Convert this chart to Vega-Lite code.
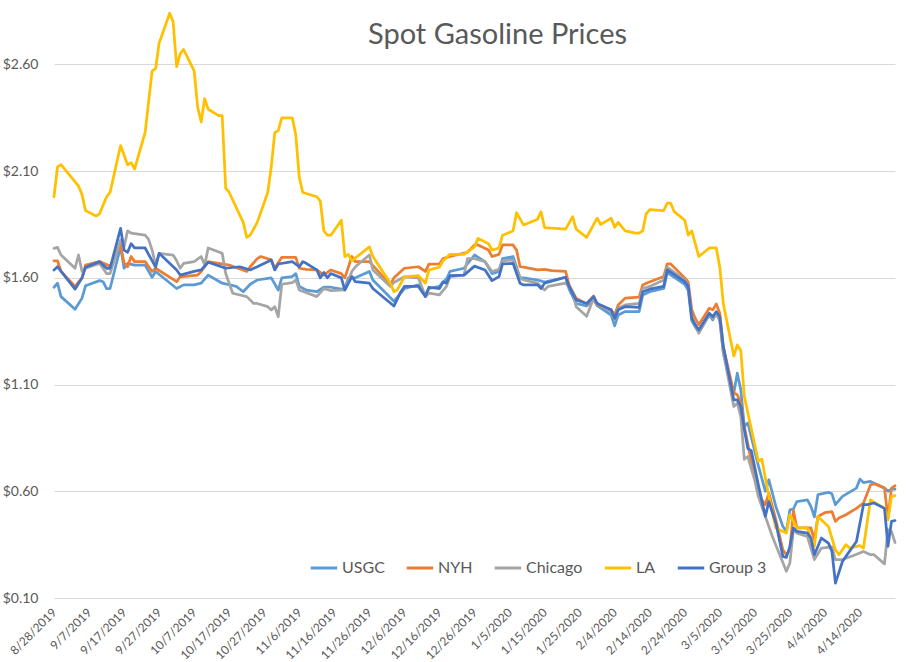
{
"$schema":"https://vega.github.io/schema/vega-lite/v6.json",
"width":841,"height":588,
"autosize":{"type":"none"},
"padding":{"left":54,"top":10,"right":17,"bottom":64},
"background":"white",
"title":{"text":"Spot Gasoline Prices","font":"Lato","fontSize":29,"fontWeight":"normal","color":"#595959","anchor":"middle","frame":"group","offset":0,"baseline":"alphabetic","dx":23,"dy":63},
"data":{"format":{"parse":{"date":"date:'%Y-%m-%d'"}},"values":[
{"series":"USGC","date":"2019-08-28","price":1.556},{"series":"USGC","date":"2019-08-29","price":1.575},{"series":"USGC","date":"2019-08-30","price":1.512},{"series":"USGC","date":"2019-09-03","price":1.453},{"series":"USGC","date":"2019-09-05","price":1.505},{"series":"USGC","date":"2019-09-06","price":1.563},{"series":"USGC","date":"2019-09-10","price":1.587},{"series":"USGC","date":"2019-09-11","price":1.582},{"series":"USGC","date":"2019-09-12","price":1.55},{"series":"USGC","date":"2019-09-13","price":1.55},{"series":"USGC","date":"2019-09-16","price":1.746},{"series":"USGC","date":"2019-09-17","price":1.645},{"series":"USGC","date":"2019-09-18","price":1.668},{"series":"USGC","date":"2019-09-20","price":1.66},{"series":"USGC","date":"2019-09-23","price":1.66},{"series":"USGC","date":"2019-09-25","price":1.603},{"series":"USGC","date":"2019-09-26","price":1.63},{"series":"USGC","date":"2019-10-02","price":1.55},{"series":"USGC","date":"2019-10-04","price":1.567},{"series":"USGC","date":"2019-10-07","price":1.567},{"series":"USGC","date":"2019-10-09","price":1.575},{"series":"USGC","date":"2019-10-11","price":1.613},{"series":"USGC","date":"2019-10-15","price":1.575},{"series":"USGC","date":"2019-10-19","price":1.56},{"series":"USGC","date":"2019-10-21","price":1.535},{"series":"USGC","date":"2019-10-23","price":1.57},{"series":"USGC","date":"2019-10-25","price":1.59},{"series":"USGC","date":"2019-10-29","price":1.6},{"series":"USGC","date":"2019-10-31","price":1.543},{"series":"USGC","date":"2019-11-01","price":1.6},{"series":"USGC","date":"2019-11-04","price":1.606},{"series":"USGC","date":"2019-11-05","price":1.62},{"series":"USGC","date":"2019-11-06","price":1.56},{"series":"USGC","date":"2019-11-08","price":1.543},{"series":"USGC","date":"2019-11-11","price":1.535},{"series":"USGC","date":"2019-11-13","price":1.556},{"series":"USGC","date":"2019-11-15","price":1.556},{"series":"USGC","date":"2019-11-18","price":1.547},{"series":"USGC","date":"2019-11-19","price":1.55},{"series":"USGC","date":"2019-11-20","price":1.6},{"series":"USGC","date":"2019-11-22","price":1.6},{"series":"USGC","date":"2019-11-26","price":1.63},{"series":"USGC","date":"2019-11-27","price":1.59},{"series":"USGC","date":"2019-12-03","price":1.49},{"series":"USGC","date":"2019-12-06","price":1.55},{"series":"USGC","date":"2019-12-10","price":1.567},{"series":"USGC","date":"2019-12-12","price":1.52},{"series":"USGC","date":"2019-12-13","price":1.55},{"series":"USGC","date":"2019-12-16","price":1.56},{"series":"USGC","date":"2019-12-17","price":1.58},{"series":"USGC","date":"2019-12-18","price":1.594},{"series":"USGC","date":"2019-12-19","price":1.63},{"series":"USGC","date":"2019-12-23","price":1.645},{"series":"USGC","date":"2019-12-26","price":1.707},{"series":"USGC","date":"2019-12-29","price":1.676},{"series":"USGC","date":"2019-12-31","price":1.62},{"series":"USGC","date":"2020-01-02","price":1.63},{"series":"USGC","date":"2020-01-03","price":1.69},{"series":"USGC","date":"2020-01-06","price":1.7},{"series":"USGC","date":"2020-01-08","price":1.6},{"series":"USGC","date":"2020-01-09","price":1.6},{"series":"USGC","date":"2020-01-13","price":1.59},{"series":"USGC","date":"2020-01-15","price":1.58},{"series":"USGC","date":"2020-01-21","price":1.603},{"series":"USGC","date":"2020-01-22","price":1.547},{"series":"USGC","date":"2020-01-24","price":1.48},{"series":"USGC","date":"2020-01-27","price":1.468},{"series":"USGC","date":"2020-01-29","price":1.497},{"series":"USGC","date":"2020-01-30","price":1.47},{"series":"USGC","date":"2020-02-03","price":1.426},{"series":"USGC","date":"2020-02-04","price":1.375},{"series":"USGC","date":"2020-02-05","price":1.426},{"series":"USGC","date":"2020-02-07","price":1.442},{"series":"USGC","date":"2020-02-11","price":1.442},{"series":"USGC","date":"2020-02-12","price":1.52},{"series":"USGC","date":"2020-02-14","price":1.535},{"series":"USGC","date":"2020-02-18","price":1.55},{"series":"USGC","date":"2020-02-19","price":1.625},{"series":"USGC","date":"2020-02-24","price":1.57},{"series":"USGC","date":"2020-02-25","price":1.54},{"series":"USGC","date":"2020-02-26","price":1.4},{"series":"USGC","date":"2020-02-27","price":1.37},{"series":"USGC","date":"2020-02-28","price":1.345},{"series":"USGC","date":"2020-03-02","price":1.426},{"series":"USGC","date":"2020-03-03","price":1.403},{"series":"USGC","date":"2020-03-04","price":1.434},{"series":"USGC","date":"2020-03-05","price":1.403},{"series":"USGC","date":"2020-03-06","price":1.247},{"series":"USGC","date":"2020-03-09","price":1.06},{"series":"USGC","date":"2020-03-10","price":1.153},{"series":"USGC","date":"2020-03-11","price":1.075},{"series":"USGC","date":"2020-03-12","price":0.903},{"series":"USGC","date":"2020-03-13","price":0.92},{"series":"USGC","date":"2020-03-16","price":0.72},{"series":"USGC","date":"2020-03-18","price":0.6},{"series":"USGC","date":"2020-03-19","price":0.654},{"series":"USGC","date":"2020-03-21","price":0.529},{"series":"USGC","date":"2020-03-23","price":0.435},{"series":"USGC","date":"2020-03-24","price":0.412},{"series":"USGC","date":"2020-03-25","price":0.513},{"series":"USGC","date":"2020-03-26","price":0.517},{"series":"USGC","date":"2020-03-27","price":0.552},{"series":"USGC","date":"2020-03-30","price":0.56},{"series":"USGC","date":"2020-03-31","price":0.529},{"series":"USGC","date":"2020-04-01","price":0.48},{"series":"USGC","date":"2020-04-02","price":0.584},{"series":"USGC","date":"2020-04-05","price":0.595},{"series":"USGC","date":"2020-04-06","price":0.588},{"series":"USGC","date":"2020-04-07","price":0.537},{"series":"USGC","date":"2020-04-09","price":0.576},{"series":"USGC","date":"2020-04-13","price":0.615},{"series":"USGC","date":"2020-04-14","price":0.657},{"series":"USGC","date":"2020-04-15","price":0.641},{"series":"USGC","date":"2020-04-17","price":0.646},{"series":"USGC","date":"2020-04-21","price":0.615},{"series":"USGC","date":"2020-04-22","price":0.6},{"series":"USGC","date":"2020-04-23","price":0.61},{"series":"USGC","date":"2020-04-24","price":0.61},
{"series":"NYH","date":"2019-08-28","price":1.68},{"series":"NYH","date":"2019-08-29","price":1.68},{"series":"NYH","date":"2019-08-30","price":1.63},{"series":"NYH","date":"2019-09-03","price":1.56},{"series":"NYH","date":"2019-09-05","price":1.6},{"series":"NYH","date":"2019-09-06","price":1.66},{"series":"NYH","date":"2019-09-10","price":1.676},{"series":"NYH","date":"2019-09-13","price":1.655},{"series":"NYH","date":"2019-09-16","price":1.755},{"series":"NYH","date":"2019-09-17","price":1.668},{"series":"NYH","date":"2019-09-18","price":1.652},{"series":"NYH","date":"2019-09-19","price":1.7},{"series":"NYH","date":"2019-09-20","price":1.676},{"series":"NYH","date":"2019-09-23","price":1.676},{"series":"NYH","date":"2019-09-25","price":1.63},{"series":"NYH","date":"2019-09-26","price":1.645},{"series":"NYH","date":"2019-10-02","price":1.582},{"series":"NYH","date":"2019-10-03","price":1.605},{"series":"NYH","date":"2019-10-08","price":1.613},{"series":"NYH","date":"2019-10-09","price":1.63},{"series":"NYH","date":"2019-10-11","price":1.676},{"series":"NYH","date":"2019-10-17","price":1.66},{"series":"NYH","date":"2019-10-22","price":1.63},{"series":"NYH","date":"2019-10-23","price":1.652},{"series":"NYH","date":"2019-10-25","price":1.69},{"series":"NYH","date":"2019-10-26","price":1.7},{"series":"NYH","date":"2019-10-29","price":1.684},{"series":"NYH","date":"2019-10-30","price":1.645},{"series":"NYH","date":"2019-11-01","price":1.696},{"series":"NYH","date":"2019-11-05","price":1.696},{"series":"NYH","date":"2019-11-06","price":1.645},{"series":"NYH","date":"2019-11-08","price":1.64},{"series":"NYH","date":"2019-11-11","price":1.637},{"series":"NYH","date":"2019-11-13","price":1.613},{"series":"NYH","date":"2019-11-15","price":1.637},{"series":"NYH","date":"2019-11-18","price":1.62},{"series":"NYH","date":"2019-11-19","price":1.6},{"series":"NYH","date":"2019-11-21","price":1.7},{"series":"NYH","date":"2019-11-22","price":1.676},{"series":"NYH","date":"2019-11-26","price":1.676},{"series":"NYH","date":"2019-12-02","price":1.567},{"series":"NYH","date":"2019-12-03","price":1.6},{"series":"NYH","date":"2019-12-06","price":1.645},{"series":"NYH","date":"2019-12-10","price":1.652},{"series":"NYH","date":"2019-12-12","price":1.63},{"series":"NYH","date":"2019-12-13","price":1.664},{"series":"NYH","date":"2019-12-16","price":1.665},{"series":"NYH","date":"2019-12-17","price":1.69},{"series":"NYH","date":"2019-12-19","price":1.7},{"series":"NYH","date":"2019-12-24","price":1.72},{"series":"NYH","date":"2019-12-26","price":1.754},{"series":"NYH","date":"2019-12-27","price":1.754},{"series":"NYH","date":"2019-12-30","price":1.73},{"series":"NYH","date":"2019-12-31","price":1.7},{"series":"NYH","date":"2020-01-02","price":1.71},{"series":"NYH","date":"2020-01-03","price":1.754},{"series":"NYH","date":"2020-01-06","price":1.754},{"series":"NYH","date":"2020-01-07","price":1.73},{"series":"NYH","date":"2020-01-08","price":1.652},{"series":"NYH","date":"2020-01-09","price":1.65},{"series":"NYH","date":"2020-01-13","price":1.637},{"series":"NYH","date":"2020-01-15","price":1.64},{"series":"NYH","date":"2020-01-17","price":1.634},{"series":"NYH","date":"2020-01-21","price":1.63},{"series":"NYH","date":"2020-01-22","price":1.567},{"series":"NYH","date":"2020-01-24","price":1.505},{"series":"NYH","date":"2020-01-27","price":1.478},{"series":"NYH","date":"2020-01-29","price":1.515},{"series":"NYH","date":"2020-01-30","price":1.473},{"series":"NYH","date":"2020-02-03","price":1.45},{"series":"NYH","date":"2020-02-04","price":1.426},{"series":"NYH","date":"2020-02-05","price":1.473},{"series":"NYH","date":"2020-02-07","price":1.505},{"series":"NYH","date":"2020-02-11","price":1.51},{"series":"NYH","date":"2020-02-12","price":1.567},{"series":"NYH","date":"2020-02-13","price":1.575},{"series":"NYH","date":"2020-02-18","price":1.606},{"series":"NYH","date":"2020-02-19","price":1.665},{"series":"NYH","date":"2020-02-20","price":1.665},{"series":"NYH","date":"2020-02-24","price":1.6},{"series":"NYH","date":"2020-02-25","price":1.58},{"series":"NYH","date":"2020-02-26","price":1.45},{"series":"NYH","date":"2020-02-27","price":1.41},{"series":"NYH","date":"2020-02-28","price":1.38},{"series":"NYH","date":"2020-03-02","price":1.458},{"series":"NYH","date":"2020-03-03","price":1.45},{"series":"NYH","date":"2020-03-04","price":1.478},{"series":"NYH","date":"2020-03-05","price":1.434},{"series":"NYH","date":"2020-03-06","price":1.278},{"series":"NYH","date":"2020-03-09","price":1.06},{"series":"NYH","date":"2020-03-10","price":1.052},{"series":"NYH","date":"2020-03-11","price":1.013},{"series":"NYH","date":"2020-03-12","price":0.903},{"series":"NYH","date":"2020-03-14","price":0.74},{"series":"NYH","date":"2020-03-16","price":0.584},{"series":"NYH","date":"2020-03-18","price":0.537},{"series":"NYH","date":"2020-03-19","price":0.592},{"series":"NYH","date":"2020-03-21","price":0.466},{"series":"NYH","date":"2020-03-23","price":0.326},{"series":"NYH","date":"2020-03-24","price":0.303},{"series":"NYH","date":"2020-03-25","price":0.326},{"series":"NYH","date":"2020-03-26","price":0.51},{"series":"NYH","date":"2020-03-27","price":0.428},{"series":"NYH","date":"2020-03-31","price":0.428},{"series":"NYH","date":"2020-04-01","price":0.373},{"series":"NYH","date":"2020-04-02","price":0.482},{"series":"NYH","date":"2020-04-04","price":0.5},{"series":"NYH","date":"2020-04-06","price":0.505},{"series":"NYH","date":"2020-04-07","price":0.459},{"series":"NYH","date":"2020-04-08","price":0.475},{"series":"NYH","date":"2020-04-10","price":0.49},{"series":"NYH","date":"2020-04-13","price":0.52},{"series":"NYH","date":"2020-04-15","price":0.545},{"series":"NYH","date":"2020-04-17","price":0.63},{"series":"NYH","date":"2020-04-18","price":0.635},{"series":"NYH","date":"2020-04-21","price":0.615},{"series":"NYH","date":"2020-04-22","price":0.475},{"series":"NYH","date":"2020-04-23","price":0.615},{"series":"NYH","date":"2020-04-24","price":0.626},
{"series":"Chicago","date":"2019-08-28","price":1.738},{"series":"Chicago","date":"2019-08-29","price":1.743},{"series":"Chicago","date":"2019-08-30","price":1.707},{"series":"Chicago","date":"2019-09-03","price":1.645},{"series":"Chicago","date":"2019-09-04","price":1.707},{"series":"Chicago","date":"2019-09-05","price":1.63},{"series":"Chicago","date":"2019-09-06","price":1.645},{"series":"Chicago","date":"2019-09-10","price":1.668},{"series":"Chicago","date":"2019-09-12","price":1.62},{"series":"Chicago","date":"2019-09-13","price":1.62},{"series":"Chicago","date":"2019-09-16","price":1.777},{"series":"Chicago","date":"2019-09-17","price":1.746},{"series":"Chicago","date":"2019-09-18","price":1.82},{"series":"Chicago","date":"2019-09-19","price":1.81},{"series":"Chicago","date":"2019-09-23","price":1.8},{"series":"Chicago","date":"2019-09-24","price":1.78},{"series":"Chicago","date":"2019-09-25","price":1.73},{"series":"Chicago","date":"2019-09-26","price":1.66},{"series":"Chicago","date":"2019-09-27","price":1.715},{"series":"Chicago","date":"2019-10-01","price":1.707},{"series":"Chicago","date":"2019-10-02","price":1.68},{"series":"Chicago","date":"2019-10-03","price":1.645},{"series":"Chicago","date":"2019-10-04","price":1.668},{"series":"Chicago","date":"2019-10-07","price":1.676},{"series":"Chicago","date":"2019-10-09","price":1.7},{"series":"Chicago","date":"2019-10-10","price":1.66},{"series":"Chicago","date":"2019-10-11","price":1.74},{"series":"Chicago","date":"2019-10-15","price":1.715},{"series":"Chicago","date":"2019-10-16","price":1.62},{"series":"Chicago","date":"2019-10-18","price":1.528},{"series":"Chicago","date":"2019-10-22","price":1.512},{"series":"Chicago","date":"2019-10-24","price":1.48},{"series":"Chicago","date":"2019-10-25","price":1.48},{"series":"Chicago","date":"2019-10-28","price":1.465},{"series":"Chicago","date":"2019-10-29","price":1.45},{"series":"Chicago","date":"2019-10-30","price":1.465},{"series":"Chicago","date":"2019-10-31","price":1.418},{"series":"Chicago","date":"2019-11-01","price":1.57},{"series":"Chicago","date":"2019-11-04","price":1.578},{"series":"Chicago","date":"2019-11-05","price":1.59},{"series":"Chicago","date":"2019-11-06","price":1.543},{"series":"Chicago","date":"2019-11-11","price":1.512},{"series":"Chicago","date":"2019-11-13","price":1.55},{"series":"Chicago","date":"2019-11-15","price":1.54},{"series":"Chicago","date":"2019-11-18","price":1.543},{"series":"Chicago","date":"2019-11-19","price":1.545},{"series":"Chicago","date":"2019-11-21","price":1.63},{"series":"Chicago","date":"2019-11-22","price":1.652},{"series":"Chicago","date":"2019-11-26","price":1.707},{"series":"Chicago","date":"2019-11-27","price":1.637},{"series":"Chicago","date":"2019-12-02","price":1.56},{"series":"Chicago","date":"2019-12-03","price":1.578},{"series":"Chicago","date":"2019-12-06","price":1.605},{"series":"Chicago","date":"2019-12-10","price":1.6},{"series":"Chicago","date":"2019-12-12","price":1.512},{"series":"Chicago","date":"2019-12-13","price":1.528},{"series":"Chicago","date":"2019-12-16","price":1.52},{"series":"Chicago","date":"2019-12-18","price":1.56},{"series":"Chicago","date":"2019-12-19","price":1.606},{"series":"Chicago","date":"2019-12-23","price":1.613},{"series":"Chicago","date":"2019-12-24","price":1.69},{"series":"Chicago","date":"2019-12-26","price":1.69},{"series":"Chicago","date":"2019-12-29","price":1.676},{"series":"Chicago","date":"2019-12-31","price":1.63},{"series":"Chicago","date":"2020-01-02","price":1.64},{"series":"Chicago","date":"2020-01-03","price":1.68},{"series":"Chicago","date":"2020-01-06","price":1.684},{"series":"Chicago","date":"2020-01-08","price":1.6},{"series":"Chicago","date":"2020-01-09","price":1.59},{"series":"Chicago","date":"2020-01-13","price":1.575},{"series":"Chicago","date":"2020-01-15","price":1.543},{"series":"Chicago","date":"2020-01-16","price":1.56},{"series":"Chicago","date":"2020-01-21","price":1.575},{"series":"Chicago","date":"2020-01-23","price":1.535},{"series":"Chicago","date":"2020-01-24","price":1.465},{"series":"Chicago","date":"2020-01-27","price":1.42},{"series":"Chicago","date":"2020-01-29","price":1.505},{"series":"Chicago","date":"2020-01-30","price":1.48},{"series":"Chicago","date":"2020-02-03","price":1.442},{"series":"Chicago","date":"2020-02-04","price":1.403},{"series":"Chicago","date":"2020-02-05","price":1.458},{"series":"Chicago","date":"2020-02-07","price":1.473},{"series":"Chicago","date":"2020-02-11","price":1.48},{"series":"Chicago","date":"2020-02-12","price":1.55},{"series":"Chicago","date":"2020-02-14","price":1.56},{"series":"Chicago","date":"2020-02-18","price":1.59},{"series":"Chicago","date":"2020-02-19","price":1.65},{"series":"Chicago","date":"2020-02-24","price":1.59},{"series":"Chicago","date":"2020-02-25","price":1.56},{"series":"Chicago","date":"2020-02-26","price":1.42},{"series":"Chicago","date":"2020-02-27","price":1.38},{"series":"Chicago","date":"2020-02-28","price":1.34},{"series":"Chicago","date":"2020-03-02","price":1.43},{"series":"Chicago","date":"2020-03-03","price":1.41},{"series":"Chicago","date":"2020-03-04","price":1.43},{"series":"Chicago","date":"2020-03-05","price":1.4},{"series":"Chicago","date":"2020-03-06","price":1.25},{"series":"Chicago","date":"2020-03-09","price":0.997},{"series":"Chicago","date":"2020-03-10","price":1.013},{"series":"Chicago","date":"2020-03-11","price":0.95},{"series":"Chicago","date":"2020-03-12","price":0.75},{"series":"Chicago","date":"2020-03-13","price":0.763},{"series":"Chicago","date":"2020-03-15","price":0.65},{"series":"Chicago","date":"2020-03-16","price":0.576},{"series":"Chicago","date":"2020-03-20","price":0.388},{"series":"Chicago","date":"2020-03-24","price":0.225},{"series":"Chicago","date":"2020-03-25","price":0.264},{"series":"Chicago","date":"2020-03-26","price":0.42},{"series":"Chicago","date":"2020-03-27","price":0.404},{"series":"Chicago","date":"2020-03-30","price":0.388},{"series":"Chicago","date":"2020-04-01","price":0.28},{"series":"Chicago","date":"2020-04-03","price":0.334},{"series":"Chicago","date":"2020-04-06","price":0.339},{"series":"Chicago","date":"2020-04-07","price":0.28},{"series":"Chicago","date":"2020-04-09","price":0.28},{"series":"Chicago","date":"2020-04-12","price":0.298},{"series":"Chicago","date":"2020-04-15","price":0.318},{"series":"Chicago","date":"2020-04-17","price":0.303},{"series":"Chicago","date":"2020-04-18","price":0.303},{"series":"Chicago","date":"2020-04-21","price":0.26},{"series":"Chicago","date":"2020-04-22","price":0.42},{"series":"Chicago","date":"2020-04-23","price":0.412},{"series":"Chicago","date":"2020-04-24","price":0.36},
{"series":"LA","date":"2019-08-28","price":1.98},{"series":"LA","date":"2019-08-29","price":2.12},{"series":"LA","date":"2019-08-30","price":2.13},{"series":"LA","date":"2019-09-04","price":2.03},{"series":"LA","date":"2019-09-05","price":1.99},{"series":"LA","date":"2019-09-06","price":1.915},{"series":"LA","date":"2019-09-09","price":1.89},{"series":"LA","date":"2019-09-10","price":1.9},{"series":"LA","date":"2019-09-12","price":1.98},{"series":"LA","date":"2019-09-13","price":2.0},{"series":"LA","date":"2019-09-16","price":2.22},{"series":"LA","date":"2019-09-18","price":2.13},{"series":"LA","date":"2019-09-19","price":2.14},{"series":"LA","date":"2019-09-20","price":2.11},{"series":"LA","date":"2019-09-23","price":2.28},{"series":"LA","date":"2019-09-25","price":2.57},{"series":"LA","date":"2019-09-26","price":2.58},{"series":"LA","date":"2019-09-27","price":2.7},{"series":"LA","date":"2019-09-30","price":2.84},{"series":"LA","date":"2019-10-01","price":2.8},{"series":"LA","date":"2019-10-02","price":2.59},{"series":"LA","date":"2019-10-03","price":2.65},{"series":"LA","date":"2019-10-04","price":2.67},{"series":"LA","date":"2019-10-07","price":2.57},{"series":"LA","date":"2019-10-08","price":2.4},{"series":"LA","date":"2019-10-09","price":2.33},{"series":"LA","date":"2019-10-10","price":2.44},{"series":"LA","date":"2019-10-11","price":2.39},{"series":"LA","date":"2019-10-14","price":2.36},{"series":"LA","date":"2019-10-15","price":2.36},{"series":"LA","date":"2019-10-16","price":2.02},{"series":"LA","date":"2019-10-17","price":2.0},{"series":"LA","date":"2019-10-21","price":1.86},{"series":"LA","date":"2019-10-22","price":1.79},{"series":"LA","date":"2019-10-23","price":1.8},{"series":"LA","date":"2019-10-25","price":1.86},{"series":"LA","date":"2019-10-28","price":2.0},{"series":"LA","date":"2019-10-29","price":2.12},{"series":"LA","date":"2019-10-30","price":2.28},{"series":"LA","date":"2019-10-31","price":2.29},{"series":"LA","date":"2019-11-01","price":2.35},{"series":"LA","date":"2019-11-04","price":2.35},{"series":"LA","date":"2019-11-05","price":2.27},{"series":"LA","date":"2019-11-06","price":2.07},{"series":"LA","date":"2019-11-07","price":2.0},{"series":"LA","date":"2019-11-11","price":1.98},{"series":"LA","date":"2019-11-12","price":1.96},{"series":"LA","date":"2019-11-13","price":1.82},{"series":"LA","date":"2019-11-14","price":1.8},{"series":"LA","date":"2019-11-15","price":1.8},{"series":"LA","date":"2019-11-18","price":1.87},{"series":"LA","date":"2019-11-19","price":1.7},{"series":"LA","date":"2019-11-20","price":1.71},{"series":"LA","date":"2019-11-21","price":1.68},{"series":"LA","date":"2019-11-26","price":1.745},{"series":"LA","date":"2019-11-27","price":1.7},{"series":"LA","date":"2019-12-02","price":1.575},{"series":"LA","date":"2019-12-03","price":1.535},{"series":"LA","date":"2019-12-04","price":1.545},{"series":"LA","date":"2019-12-06","price":1.605},{"series":"LA","date":"2019-12-10","price":1.61},{"series":"LA","date":"2019-12-12","price":1.575},{"series":"LA","date":"2019-12-13","price":1.637},{"series":"LA","date":"2019-12-16","price":1.65},{"series":"LA","date":"2019-12-17","price":1.68},{"series":"LA","date":"2019-12-19","price":1.71},{"series":"LA","date":"2019-12-23","price":1.71},{"series":"LA","date":"2019-12-26","price":1.745},{"series":"LA","date":"2019-12-27","price":1.785},{"series":"LA","date":"2019-12-30","price":1.76},{"series":"LA","date":"2019-12-31","price":1.73},{"series":"LA","date":"2020-01-02","price":1.74},{"series":"LA","date":"2020-01-03","price":1.8},{"series":"LA","date":"2020-01-06","price":1.82},{"series":"LA","date":"2020-01-07","price":1.905},{"series":"LA","date":"2020-01-09","price":1.848},{"series":"LA","date":"2020-01-13","price":1.875},{"series":"LA","date":"2020-01-14","price":1.91},{"series":"LA","date":"2020-01-15","price":1.835},{"series":"LA","date":"2020-01-21","price":1.828},{"series":"LA","date":"2020-01-23","price":1.887},{"series":"LA","date":"2020-01-24","price":1.828},{"series":"LA","date":"2020-01-27","price":1.79},{"series":"LA","date":"2020-01-30","price":1.88},{"series":"LA","date":"2020-01-31","price":1.85},{"series":"LA","date":"2020-02-03","price":1.88},{"series":"LA","date":"2020-02-04","price":1.837},{"series":"LA","date":"2020-02-05","price":1.86},{"series":"LA","date":"2020-02-07","price":1.82},{"series":"LA","date":"2020-02-10","price":1.81},{"series":"LA","date":"2020-02-11","price":1.81},{"series":"LA","date":"2020-02-12","price":1.82},{"series":"LA","date":"2020-02-13","price":1.9},{"series":"LA","date":"2020-02-14","price":1.92},{"series":"LA","date":"2020-02-18","price":1.915},{"series":"LA","date":"2020-02-19","price":1.95},{"series":"LA","date":"2020-02-20","price":1.95},{"series":"LA","date":"2020-02-21","price":1.91},{"series":"LA","date":"2020-02-24","price":1.87},{"series":"LA","date":"2020-02-25","price":1.8},{"series":"LA","date":"2020-02-26","price":1.82},{"series":"LA","date":"2020-02-28","price":1.7},{"series":"LA","date":"2020-03-02","price":1.74},{"series":"LA","date":"2020-03-04","price":1.74},{"series":"LA","date":"2020-03-05","price":1.65},{"series":"LA","date":"2020-03-06","price":1.48},{"series":"LA","date":"2020-03-09","price":1.234},{"series":"LA","date":"2020-03-10","price":1.286},{"series":"LA","date":"2020-03-11","price":1.26},{"series":"LA","date":"2020-03-12","price":1.044},{"series":"LA","date":"2020-03-16","price":0.74},{"series":"LA","date":"2020-03-17","price":0.75},{"series":"LA","date":"2020-03-19","price":0.576},{"series":"LA","date":"2020-03-21","price":0.428},{"series":"LA","date":"2020-03-24","price":0.404},{"series":"LA","date":"2020-03-25","price":0.49},{"series":"LA","date":"2020-03-27","price":0.428},{"series":"LA","date":"2020-03-30","price":0.428},{"series":"LA","date":"2020-03-31","price":0.373},{"series":"LA","date":"2020-04-01","price":0.342},{"series":"LA","date":"2020-04-02","price":0.482},{"series":"LA","date":"2020-04-05","price":0.435},{"series":"LA","date":"2020-04-07","price":0.326},{"series":"LA","date":"2020-04-08","price":0.303},{"series":"LA","date":"2020-04-10","price":0.35},{"series":"LA","date":"2020-04-11","price":0.334},{"series":"LA","date":"2020-04-14","price":0.345},{"series":"LA","date":"2020-04-15","price":0.334},{"series":"LA","date":"2020-04-17","price":0.56},{"series":"LA","date":"2020-04-21","price":0.52},{"series":"LA","date":"2020-04-22","price":0.466},{"series":"LA","date":"2020-04-23","price":0.576},{"series":"LA","date":"2020-04-24","price":0.58},
{"series":"Group 3","date":"2019-08-28","price":1.637},{"series":"Group 3","date":"2019-08-29","price":1.652},{"series":"Group 3","date":"2019-09-03","price":1.547},{"series":"Group 3","date":"2019-09-05","price":1.6},{"series":"Group 3","date":"2019-09-06","price":1.65},{"series":"Group 3","date":"2019-09-10","price":1.676},{"series":"Group 3","date":"2019-09-12","price":1.645},{"series":"Group 3","date":"2019-09-13","price":1.645},{"series":"Group 3","date":"2019-09-16","price":1.832},{"series":"Group 3","date":"2019-09-17","price":1.73},{"series":"Group 3","date":"2019-09-18","price":1.72},{"series":"Group 3","date":"2019-09-19","price":1.76},{"series":"Group 3","date":"2019-09-20","price":1.74},{"series":"Group 3","date":"2019-09-23","price":1.74},{"series":"Group 3","date":"2019-09-26","price":1.65},{"series":"Group 3","date":"2019-09-27","price":1.715},{"series":"Group 3","date":"2019-10-02","price":1.637},{"series":"Group 3","date":"2019-10-03","price":1.613},{"series":"Group 3","date":"2019-10-07","price":1.63},{"series":"Group 3","date":"2019-10-09","price":1.637},{"series":"Group 3","date":"2019-10-11","price":1.673},{"series":"Group 3","date":"2019-10-16","price":1.645},{"series":"Group 3","date":"2019-10-20","price":1.652},{"series":"Group 3","date":"2019-10-23","price":1.637},{"series":"Group 3","date":"2019-10-25","price":1.652},{"series":"Group 3","date":"2019-10-29","price":1.684},{"series":"Group 3","date":"2019-10-30","price":1.637},{"series":"Group 3","date":"2019-10-31","price":1.665},{"series":"Group 3","date":"2019-11-04","price":1.676},{"series":"Group 3","date":"2019-11-06","price":1.652},{"series":"Group 3","date":"2019-11-07","price":1.676},{"series":"Group 3","date":"2019-11-08","price":1.668},{"series":"Group 3","date":"2019-11-11","price":1.637},{"series":"Group 3","date":"2019-11-12","price":1.6},{"series":"Group 3","date":"2019-11-13","price":1.625},{"series":"Group 3","date":"2019-11-14","price":1.6},{"series":"Group 3","date":"2019-11-15","price":1.62},{"series":"Group 3","date":"2019-11-18","price":1.6},{"series":"Group 3","date":"2019-11-19","price":1.543},{"series":"Group 3","date":"2019-11-21","price":1.606},{"series":"Group 3","date":"2019-11-22","price":1.582},{"series":"Group 3","date":"2019-11-26","price":1.575},{"series":"Group 3","date":"2019-11-27","price":1.55},{"series":"Group 3","date":"2019-12-03","price":1.468},{"series":"Group 3","date":"2019-12-05","price":1.535},{"series":"Group 3","date":"2019-12-06","price":1.56},{"series":"Group 3","date":"2019-12-10","price":1.56},{"series":"Group 3","date":"2019-12-12","price":1.512},{"series":"Group 3","date":"2019-12-13","price":1.556},{"series":"Group 3","date":"2019-12-16","price":1.55},{"series":"Group 3","date":"2019-12-17","price":1.58},{"series":"Group 3","date":"2019-12-18","price":1.575},{"series":"Group 3","date":"2019-12-19","price":1.61},{"series":"Group 3","date":"2019-12-23","price":1.613},{"series":"Group 3","date":"2019-12-26","price":1.655},{"series":"Group 3","date":"2019-12-29","price":1.637},{"series":"Group 3","date":"2019-12-31","price":1.587},{"series":"Group 3","date":"2020-01-02","price":1.606},{"series":"Group 3","date":"2020-01-03","price":1.665},{"series":"Group 3","date":"2020-01-06","price":1.668},{"series":"Group 3","date":"2020-01-08","price":1.575},{"series":"Group 3","date":"2020-01-09","price":1.567},{"series":"Group 3","date":"2020-01-13","price":1.567},{"series":"Group 3","date":"2020-01-14","price":1.55},{"series":"Group 3","date":"2020-01-15","price":1.575},{"series":"Group 3","date":"2020-01-21","price":1.603},{"series":"Group 3","date":"2020-01-22","price":1.56},{"series":"Group 3","date":"2020-01-24","price":1.497},{"series":"Group 3","date":"2020-01-27","price":1.48},{"series":"Group 3","date":"2020-01-29","price":1.512},{"series":"Group 3","date":"2020-01-30","price":1.48},{"series":"Group 3","date":"2020-02-03","price":1.45},{"series":"Group 3","date":"2020-02-04","price":1.41},{"series":"Group 3","date":"2020-02-05","price":1.45},{"series":"Group 3","date":"2020-02-07","price":1.465},{"series":"Group 3","date":"2020-02-11","price":1.462},{"series":"Group 3","date":"2020-02-12","price":1.535},{"series":"Group 3","date":"2020-02-14","price":1.547},{"series":"Group 3","date":"2020-02-18","price":1.56},{"series":"Group 3","date":"2020-02-19","price":1.637},{"series":"Group 3","date":"2020-02-24","price":1.582},{"series":"Group 3","date":"2020-02-25","price":1.56},{"series":"Group 3","date":"2020-02-26","price":1.41},{"series":"Group 3","date":"2020-02-27","price":1.38},{"series":"Group 3","date":"2020-02-28","price":1.356},{"series":"Group 3","date":"2020-03-02","price":1.434},{"series":"Group 3","date":"2020-03-03","price":1.418},{"series":"Group 3","date":"2020-03-04","price":1.442},{"series":"Group 3","date":"2020-03-05","price":1.418},{"series":"Group 3","date":"2020-03-06","price":1.278},{"series":"Group 3","date":"2020-03-09","price":1.028},{"series":"Group 3","date":"2020-03-10","price":1.028},{"series":"Group 3","date":"2020-03-11","price":0.997},{"series":"Group 3","date":"2020-03-12","price":0.89},{"series":"Group 3","date":"2020-03-13","price":0.8},{"series":"Group 3","date":"2020-03-14","price":0.79},{"series":"Group 3","date":"2020-03-16","price":0.63},{"series":"Group 3","date":"2020-03-18","price":0.482},{"series":"Group 3","date":"2020-03-19","price":0.552},{"series":"Group 3","date":"2020-03-21","price":0.451},{"series":"Group 3","date":"2020-03-23","price":0.295},{"series":"Group 3","date":"2020-03-24","price":0.29},{"series":"Group 3","date":"2020-03-25","price":0.342},{"series":"Group 3","date":"2020-03-26","price":0.428},{"series":"Group 3","date":"2020-03-27","price":0.412},{"series":"Group 3","date":"2020-03-30","price":0.404},{"series":"Group 3","date":"2020-03-31","price":0.381},{"series":"Group 3","date":"2020-04-01","price":0.303},{"series":"Group 3","date":"2020-04-03","price":0.381},{"series":"Group 3","date":"2020-04-05","price":0.357},{"series":"Group 3","date":"2020-04-06","price":0.318},{"series":"Group 3","date":"2020-04-07","price":0.17},{"series":"Group 3","date":"2020-04-09","price":0.271},{"series":"Group 3","date":"2020-04-10","price":0.295},{"series":"Group 3","date":"2020-04-13","price":0.365},{"series":"Group 3","date":"2020-04-15","price":0.537},{"series":"Group 3","date":"2020-04-16","price":0.537},{"series":"Group 3","date":"2020-04-18","price":0.545},{"series":"Group 3","date":"2020-04-21","price":0.52},{"series":"Group 3","date":"2020-04-22","price":0.342},{"series":"Group 3","date":"2020-04-23","price":0.459},{"series":"Group 3","date":"2020-04-24","price":0.463}
]},
"mark":{"type":"line","strokeWidth":2.75,"strokeJoin":"round","strokeCap":"round"},
"encoding":{
"x":{"field":"date","type":"temporal",
"scale":{"domain":[{"year":2019,"month":8,"date":28},{"year":2020,"month":4,"date":24}]},
"axis":{"title":null,"grid":false,"domain":false,"ticks":false,"format":"%-m/%-d/%Y","labelAngle":-45,"labelAlign":"right","labelBaseline":"middle","labelPadding":12,"labelFont":"Lato","labelFontSize":12,"labelColor":"#595959","labelOverlap":false,"labelFlush":false,
"values":[{"year":2019,"month":8,"date":28},{"year":2019,"month":9,"date":7},{"year":2019,"month":9,"date":17},{"year":2019,"month":9,"date":27},{"year":2019,"month":10,"date":7},{"year":2019,"month":10,"date":17},{"year":2019,"month":10,"date":27},{"year":2019,"month":11,"date":6},{"year":2019,"month":11,"date":16},{"year":2019,"month":11,"date":26},{"year":2019,"month":12,"date":6},{"year":2019,"month":12,"date":16},{"year":2019,"month":12,"date":26},{"year":2020,"month":1,"date":5},{"year":2020,"month":1,"date":15},{"year":2020,"month":1,"date":25},{"year":2020,"month":2,"date":4},{"year":2020,"month":2,"date":14},{"year":2020,"month":2,"date":24},{"year":2020,"month":3,"date":5},{"year":2020,"month":3,"date":15},{"year":2020,"month":3,"date":25},{"year":2020,"month":4,"date":4},{"year":2020,"month":4,"date":14}]}},
"y":{"field":"price","type":"quantitative","scale":{"domain":[0.1,2.855],"nice":false,"zero":false},
"axis":{"title":null,"values":[0.1,0.6,1.1,1.6,2.1,2.6],"format":"$.2f","grid":true,"gridColor":"#D9D9D9","gridWidth":1,"domain":false,"ticks":false,"labelPadding":16,"labelFont":"Lato","labelFontSize":14,"labelColor":"#595959"}},
"color":{"field":"series","type":"nominal","sort":null,
"scale":{"domain":["USGC","NYH","Chicago","LA","Group 3"],"range":["#5B9BD5","#ED7D31","#A5A5A5","#FFC000","#4472C4"]},
"legend":{"title":null,"orient":"none","legendX":255,"legendY":543,"direction":"horizontal","symbolType":"stroke","symbolSize":700,"symbolStrokeWidth":3,"labelFont":"Lato","labelFontSize":16,"labelColor":"#595959","columnPadding":15,"labelOffset":3}}
},
"config":{"view":{"stroke":null},"font":"Lato"}
}
